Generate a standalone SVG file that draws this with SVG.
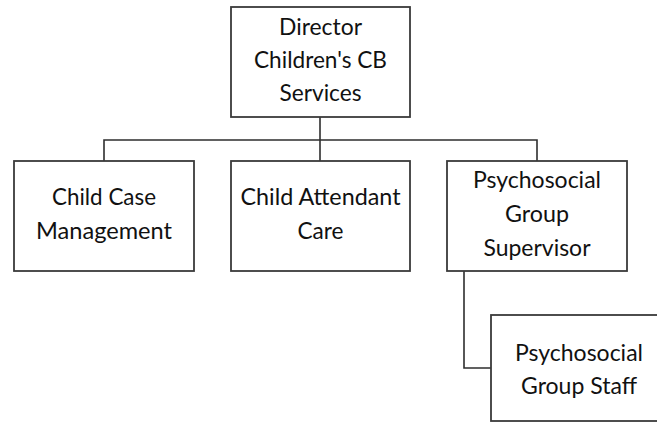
<svg xmlns="http://www.w3.org/2000/svg" width="657" height="422" viewBox="0 0 657 422">
<style>
.box{fill:#fff;stroke:#3a3a3a;stroke-width:1.8}
.con{fill:none;stroke:#2e2e2e;stroke-width:1.6}
text{font-family:Lato,"Open Sans","Liberation Sans",sans-serif;font-size:23px;fill:#111;text-anchor:middle}
</style>
<rect width="657" height="422" fill="#fff"/>
<g id="connectors">
<path class="con" d="M320 117V140M104 161V140H537V161M320 140V161"/>
<path class="con" d="M464 271V368H491"/>
</g>
<g id="director">
<rect class="box" x="231" y="7" width="179" height="110"/>
<text x="320.5" y="35" textLength="83" lengthAdjust="spacingAndGlyphs">Director</text>
<text x="320.5" y="68" textLength="133" lengthAdjust="spacingAndGlyphs">Children's CB</text>
<text x="320.5" y="101" textLength="82" lengthAdjust="spacingAndGlyphs">Services</text>
</g>
<g id="case">
<rect class="box" x="14" y="161" width="180" height="110"/>
<text x="104" y="205" textLength="104" lengthAdjust="spacingAndGlyphs">Child Case</text>
<text x="104" y="239" textLength="136" lengthAdjust="spacingAndGlyphs">Management</text>
</g>
<g id="attendant">
<rect class="box" x="231" y="161" width="179" height="110"/>
<text x="320.5" y="205" textLength="160" lengthAdjust="spacingAndGlyphs">Child Attendant</text>
<text x="320.5" y="239" textLength="46" lengthAdjust="spacingAndGlyphs">Care</text>
</g>
<g id="supervisor">
<rect class="box" x="447" y="161" width="180" height="110"/>
<text x="537" y="188" textLength="128" lengthAdjust="spacingAndGlyphs">Psychosocial</text>
<text x="537" y="222" textLength="64" lengthAdjust="spacingAndGlyphs">Group</text>
<text x="537" y="256" textLength="107" lengthAdjust="spacingAndGlyphs">Supervisor</text>
</g>
<g id="staff">
<rect class="box" x="491" y="315" width="180" height="106"/>
<text x="579" y="361" textLength="128" lengthAdjust="spacingAndGlyphs">Psychosocial</text>
<text x="579" y="394" textLength="116" lengthAdjust="spacingAndGlyphs">Group Staff</text>
</g>
</svg>
